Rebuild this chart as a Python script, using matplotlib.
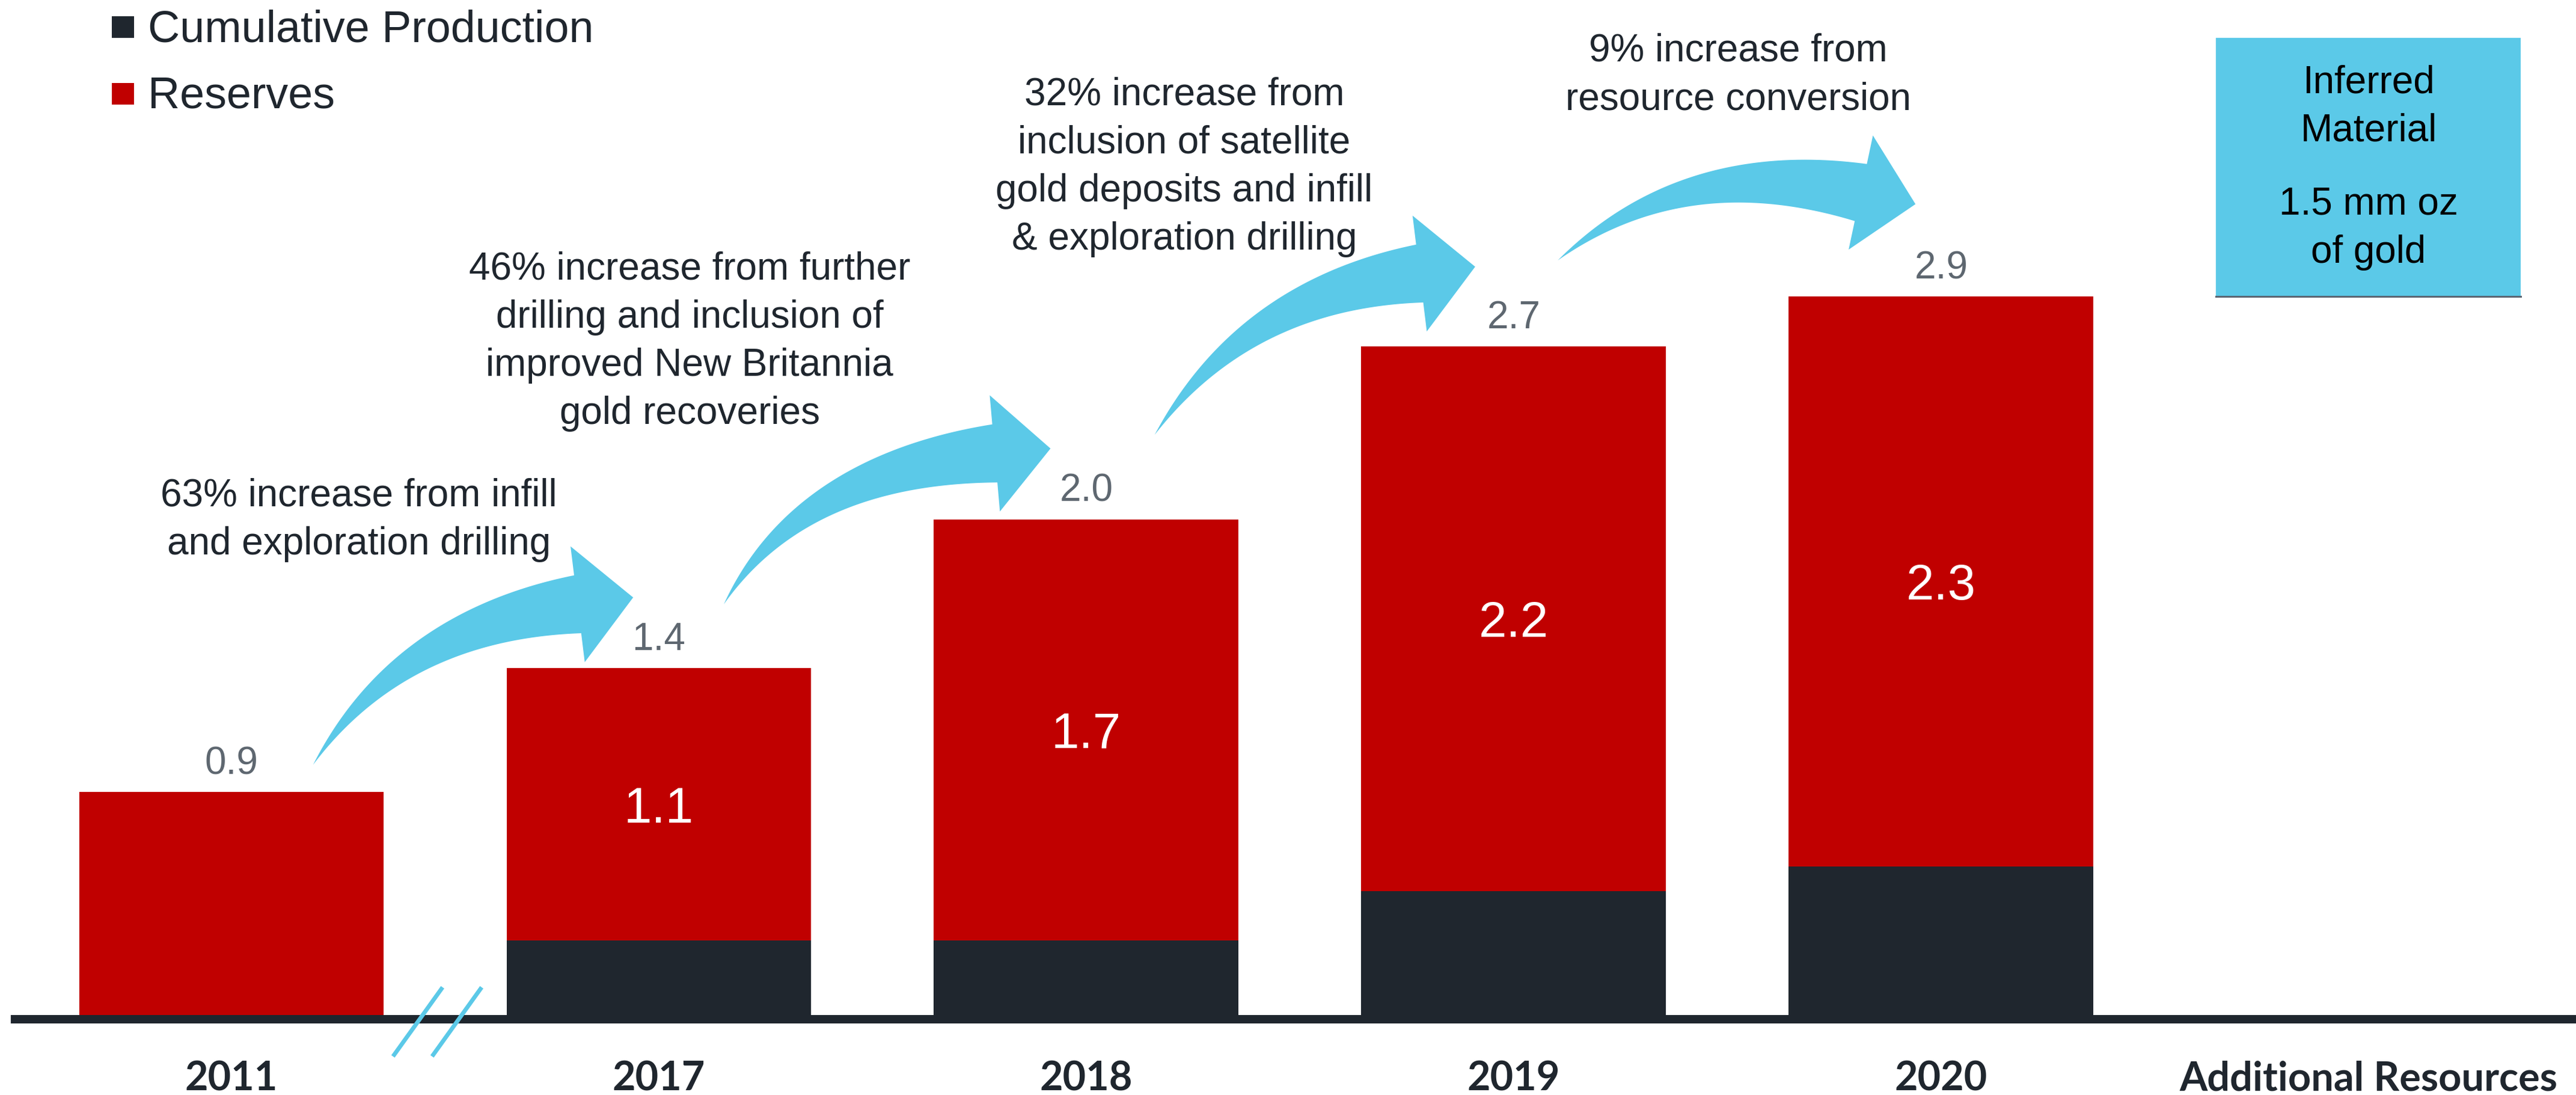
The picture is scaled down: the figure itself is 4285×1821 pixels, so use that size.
import matplotlib.pyplot as plt
import numpy as np
from matplotlib.patches import Polygon, Rectangle

# gold reserves by year (mm oz)
years = ['2011', '2017', '2018', '2019', '2020']
production = [0.0, 0.3, 0.3, 0.5, 0.6]
reserves = [0.9, 1.1, 1.7, 2.2, 2.3]
totals = [p + r for p, r in zip(production, reserves)]
extra_label = 'Additional Resources'
inferred_lines = ['Inferred\nMaterial', '1.5 mm oz\nof gold']

notes = [
    '63% increase from infill\nand exploration drilling',
    '46% increase from further\ndrilling and inclusion of\nimproved New Britannia\ngold recoveries',
    '32% increase from\ninclusion of satellite\ngold deposits and infill\n& exploration drilling',
    '9% increase from\nresource conversion',
]
# baseline of the last line of each note
note_xy = [(0.298, 1.859), (1.072, 2.386), (2.229, 3.090), (3.525, 3.655)]
# curved arrows: tail point, head base, head angle, tail angle
arrow_specs = [
    ((0.191, 1.010), (0.810, 1.658), 7, 58),
    ((1.152, 1.658), (1.786, 2.267), 5, 60),
    ((2.160, 2.342), (2.780, 2.993), 7, 57),
    ((3.103, 3.046), (3.812, 3.320), -12, 40),
]

RED = '#C00000'
DARK = '#1F262E'
BLUE = '#5BC9E8'
GREY = '#5E6770'

W, H = 4285, 1821
fig = plt.figure(figsize=(W / 100, H / 100), dpi=100)
ax = fig.add_axes([25 / W, 126 / H, 4260 / W, 1695 / H])
ax.set_xlim(-0.5063, 5.4853)
ax.set_ylim(-7 / 412, 1688 / 412)

x = np.arange(len(years))
bw = 0.713
ax.bar(x, production, width=bw, color=DARK, zorder=2)
ax.bar(x, reserves, width=bw, bottom=production, color=RED, zorder=2)

for xi, t in zip(x, totals):
    ax.annotate(f'{t:.1f}', (xi, t), xytext=(0, 21.6), textcoords='offset points',
                ha='center', va='baseline', fontsize=46, color=GREY,
                family='Liberation Sans')
for xi, p, r in zip(x[1:], production[1:], reserves[1:]):
    ax.annotate(f'{r:.1f}', (xi, p + r / 2), xytext=(0, -21.6), textcoords='offset points',
                ha='center', va='baseline', fontsize=60, color='white',
                family='Liberation Sans')

# inferred material callout sitting at the 2020 level
box_top = 3.945
ax.add_patch(Rectangle((5 - bw / 2, totals[-1]), bw, box_top - totals[-1],
                       facecolor=BLUE, edgecolor='none', zorder=2))
ax.plot([5 - bw / 2, 5 + bw / 2], [totals[-1]] * 2, color='#5A6470', lw=2.2, zorder=3)
for txt, yb in zip(inferred_lines, [3.527, 3.036]):
    ax.text(5, yb, txt, ha='center', va='baseline', fontsize=46, color='black',
            family='Liberation Sans', linespacing=1.43)

for txt, (nx, ny) in zip(notes, note_xy):
    ax.text(nx, ny, txt, ha='center', va='baseline', fontsize=46, color=DARK,
            family='Liberation Sans', linespacing=1.43)


def curved_arrow(tail, base, head_deg, tail_deg, shaft=97, head_half=97, head_len=93, n=80):
    p0 = ax.transData.transform(tail)
    p2 = ax.transData.transform(base)
    d = np.array([np.cos(np.radians(head_deg)), np.sin(np.radians(head_deg))])
    u = np.array([np.cos(np.radians(tail_deg)), np.sin(np.radians(tail_deg))])
    s = np.linalg.solve(np.column_stack([u, d]), p2 - p0)
    p1 = p0 + s[0] * u
    t = np.linspace(0, 1, n)[:, None]
    pts = (1 - t) ** 2 * p0 + 2 * t * (1 - t) * p1 + t ** 2 * p2
    tan = 2 * (1 - t) * (p1 - p0) + 2 * t * (p2 - p1)
    tan /= np.linalg.norm(tan, axis=1, keepdims=True)
    nrm = np.column_stack([-tan[:, 1], tan[:, 0]])
    half = shaft * t / 2
    outer = pts + nrm * half
    inner = pts - nrm * half
    nd = np.array([-d[1], d[0]])
    head = np.array([p2 + nd * head_half, p2 + d * head_len, p2 - nd * head_half])
    poly = np.vstack([outer, head, inner[::-1]])
    ax.add_patch(Polygon(ax.transData.inverted().transform(poly), closed=True,
                         facecolor=BLUE, edgecolor='none', zorder=3))


for tail, base, hd, td in arrow_specs:
    curved_arrow(tail, base, hd, td)

# axis break marks between 2011 and 2017
for off in [0, 0.0914]:
    ax.plot([0.378 + off, 0.494 + off], [-0.167, 0.112], color=BLUE, lw=5,
            solid_capstyle='butt', clip_on=False, zorder=4)

for side in ['top', 'right', 'left']:
    ax.spines[side].set_visible(False)
ax.spines['bottom'].set_linewidth(10.1)
ax.spines['bottom'].set_color(DARK)
ax.set_yticks([])
ax.set_xticks(list(x) + [5], labels=years + [extra_label])
ax.tick_params(axis='x', length=0, pad=49, labelsize=48, labelcolor=DARK)
for lab in ax.get_xticklabels():
    lab.set_family('Lato')
    lab.set_fontweight('bold')

# legend
for i, (name, col) in enumerate([('Cumulative Production', DARK), ('Reserves', RED)]):
    top = 27 + i * 111
    fig.add_artist(Rectangle((186 / W, 1 - (top + 36) / H), 37 / W, 36 / H,
                             transform=fig.transFigure, facecolor=col, edgecolor='none'))
    fig.text(246 / W, 1 - (69 + i * 111) / H, name, va='baseline', fontsize=53,
             color=DARK, family='Liberation Sans')

fig.savefig('out.png', dpi=100, facecolor='white')
